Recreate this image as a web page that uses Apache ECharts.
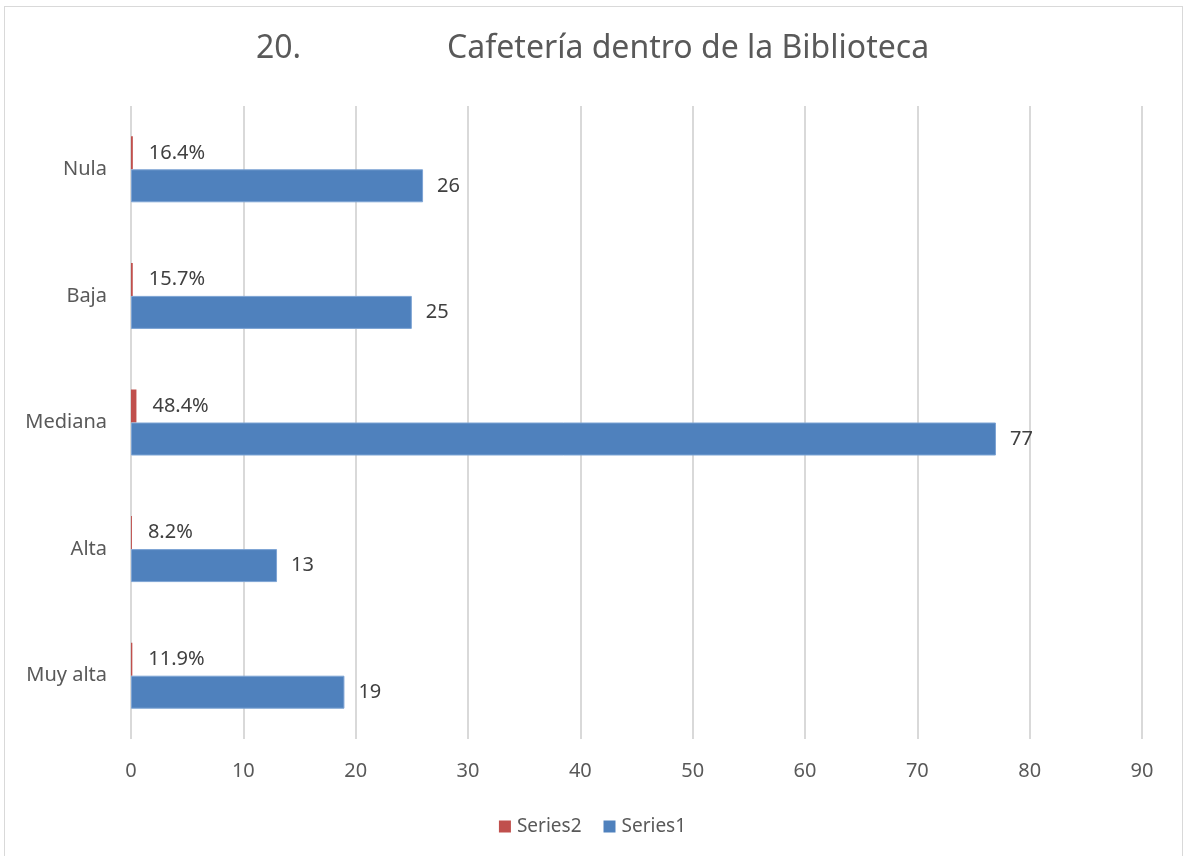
<!DOCTYPE html>
<html>
<head>
<meta charset="utf-8">
<title>Cafetería dentro de la Biblioteca</title>
<script src="https://cdn.jsdelivr.net/npm/echarts@6/dist/echarts.min.js"></script>
<style>
  html, body { margin: 0; padding: 0; background: #fff; overflow: hidden; }
  #chart { width: 1185px; height: 856px; }
  #frame {
    position: absolute; left: 4px; top: 6px; width: 1177px; height: 870px;
    border: 1px solid #d9d9d9; pointer-events: none;
  }
</style>
</head>
<body>
<div id="chart"></div>
<div id="frame"></div>
<script>
  // categories listed bottom to top
  const categories = ['Muy alta', 'Alta', 'Mediana', 'Baja', 'Nula'];
  const series1 = [19, 13, 77, 25, 26];
  const series2 = [0.119, 0.082, 0.484, 0.157, 0.164];
  const xTicks = { min: 0, max: 90, interval: 10 };

  const textColor = '#595959';
  const font = "'Noto Sans', 'Open Sans', sans-serif";

  const chart = echarts.init(document.getElementById('chart'));

  chart.setOption({
    animation: false,
    textStyle: { fontFamily: font, color: textColor },
    title: {
      left: 'center',
      top: 28,
      text: '{a|20.}{b|Cafetería dentro de la Biblioteca}',
      textStyle: {
        rich: {
          a: { fontFamily: font, fontSize: 32, fontWeight: 'normal', color: textColor, padding: [0, 146, 0, 0] },
          b: { fontFamily: font, fontSize: 32, fontWeight: 'normal', color: textColor },
        },
      },
    },
    legend: {
      bottom: 15,
      left: 'center',
      data: ['Series2', 'Series1'],
      icon: 'rect',
      itemWidth: 12,
      itemHeight: 12,
      itemGap: 22,
      itemStyle: { borderWidth: 0 },
      textStyle: { fontFamily: font, fontSize: 19, color: textColor, padding: [0, 0, 0, 1] },
    },
    grid: {
      left: 131,
      right: 43,
      top: 106,
      bottom: 117,
    },
    xAxis: {
      type: 'value',
      min: xTicks.min,
      max: xTicks.max,
      interval: xTicks.interval,
      axisLine: { show: false },
      axisTick: { show: false },
      axisLabel: { margin: 22, fontSize: 20, color: textColor, fontFamily: font },
      splitLine: { lineStyle: { color: '#d9d9d9', width: 2 } },
    },
    yAxis: {
      type: 'category',
      data: categories,
      axisLine: { show: false },
      axisTick: { show: false },
      axisLabel: { margin: 24, fontSize: 20, color: textColor, fontFamily: font },
    },
    series: [
      {
        name: 'Series2',
        type: 'bar',
        data: series2,
        barWidth: 33,
        barGap: '0%',
        itemStyle: { color: '#C0504D' },
        label: {
          show: true,
          position: 'right',
          distance: 16,
          fontSize: 20,
          color: '#404040',
          fontFamily: font,
          formatter: (p) => (p.value * 100).toFixed(1) + '%',
        },
      },
      {
        name: 'Series1',
        type: 'bar',
        data: series1,
        barWidth: 33,
        barGap: '0%',
        itemStyle: { color: '#4F81BD', borderColor: '#7da4d4', borderWidth: 1 },
        label: {
          show: true,
          position: 'right',
          distance: 14,
          fontSize: 20,
          color: '#404040',
          fontFamily: font,
        },
      },
    ],
  });
</script>
</body>
</html>
